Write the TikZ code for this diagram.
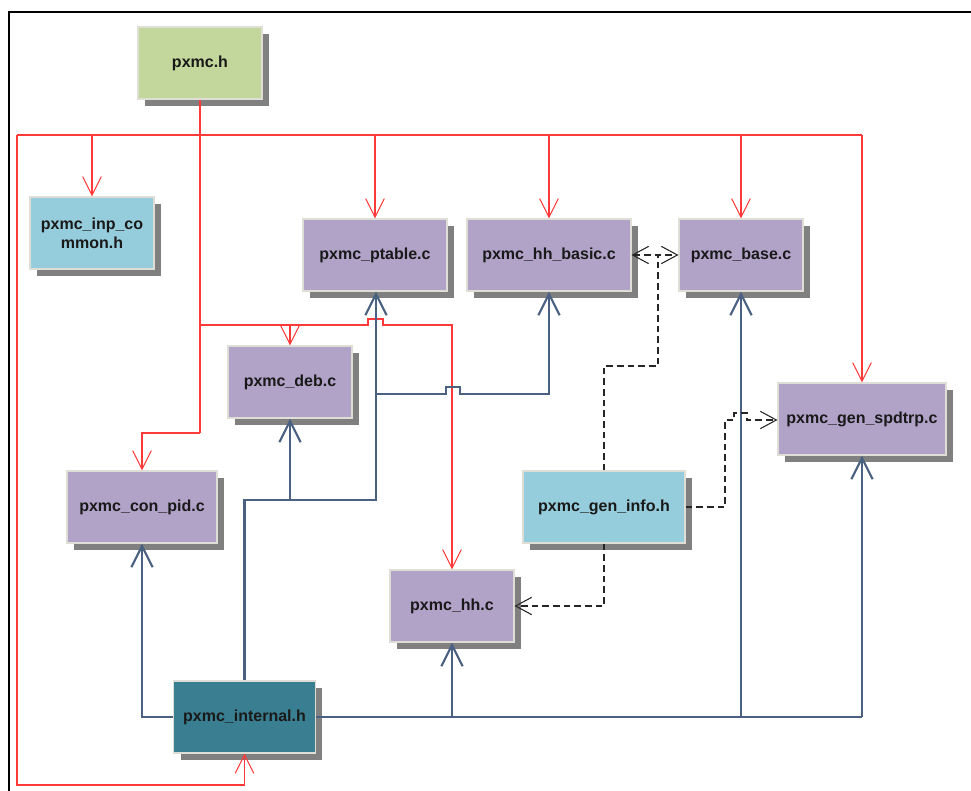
\documentclass[tikz,border=0pt]{standalone}
\usepackage{fontspec}
\setmainfont{Liberation Sans}
\usetikzlibrary{arrows.meta,shadows}
\definecolor{filec}{HTML}{B1A2C8}
\definecolor{fileh}{HTML}{96CDDC}
\definecolor{filetop}{HTML}{C3D69B}
\definecolor{fileint}{HTML}{3A7F91}
\definecolor{boxedge}{HTML}{DEDED6}
\definecolor{incl}{HTML}{FF3838}
\definecolor{uses}{HTML}{4B6182}
\definecolor{shade}{HTML}{808080}
\begin{document}
\begin{tikzpicture}[x=0.75pt,y=-0.75pt,
  file/.style={draw=boxedge, line width=0.8pt, fill=#1, minimum height=54pt,
    inner sep=0pt, align=center, font=\fontsize{12}{14}\selectfont\bfseries,
    text=black!90,
    drop shadow={shadow xshift=5pt, shadow yshift=-5pt, fill=shade, opacity=1}},
  rtip/.tip={Straight Barb[length=14pt,width=14pt,line width=0.8pt]},
  btip/.tip={Straight Barb[length=16pt,width=16pt,line width=1.6pt]},
  dtip/.tip={Straight Barb[length=12pt,width=13pt,line width=0.8pt]},
  include/.style={draw=incl, line width=0.8pt, -rtip},
  incbus/.style={draw=incl, line width=0.8pt},
  depend/.style={draw=uses, line width=1.6pt, -btip},
  depbus/.style={draw=uses, line width=1.6pt},
  refer/.style={draw=black!85, line width=0.8pt, dash pattern=on 5pt off 3pt, -dtip},
  referbus/.style={draw=black!85, line width=0.8pt, dash pattern=on 5pt off 3pt}]
\useasboundingbox (0,0) rectangle (971,791);
\fill[white] (0,0) rectangle (971,791);
% outer frame
\draw[black, line width=2.2pt] (9,791) -- (9,12) -- (971,12);

% files
\node[file=filetop, minimum width=93pt]   (h)       at (200,63)   {pxmc.h};
\node[file=fileh,   minimum width=93pt]   (inp)     at (92,233)   {pxmc\_inp\_co\\mmon.h};
\node[file=filec,   minimum width=108pt]  (ptable)  at (375,255)  {pxmc\_ptable.c};
\node[file=filec,   minimum width=123pt]  (hhbasic) at (549,255)  {pxmc\_hh\_basic.c};
\node[file=filec,   minimum width=93pt]   (base)    at (741,255)  {pxmc\_base.c};
\node[file=filec,   minimum width=93pt]   (deb)     at (290,382)  {pxmc\_deb.c};
\node[file=filec,   minimum width=126pt]  (spd)     at (862,419)  {pxmc\_gen\_spdtrp.c};
\node[file=filec,   minimum width=112.5pt](conpid)  at (142,507)  {pxmc\_con\_pid.c};
\node[file=fileh,   minimum width=121.5pt](geninfo) at (604,507)  {pxmc\_gen\_info.h};
\node[file=filec,   minimum width=93pt]   (hh)      at (452,606)  {pxmc\_hh.c};
\node[file=fileint, minimum width=106pt]  (internal)at (244.5,717){pxmc\_internal.h};

% junction points
\coordinate (busL) at (17,135);
\coordinate (busR) at (862,135);
\coordinate (midL) at (200,325);
\coordinate (upJ)  at (376,500);
\coordinate (busB) at (862,717);

% red: pxmc.h includes
\draw[incbus] (h.south) -- (200,433);
\draw[include] (200,433) -| (conpid.north);
\draw[incbus] (busL) -- (busR);
\draw[include] (92,135) -- (inp.north);
\draw[include] (375,135) -- (ptable.north);
\draw[include] (549,135) -- (hhbasic.north);
\draw[include] (741,135) -- (base.north);
\draw[include] (busR) -- (spd.north);
\draw[include] (busL) -- (17,785) -| (internal.south);
\draw[include] (midL) -| (deb.north);
\draw[include] (midL) -- (368,325) -- (368,319) -- (383,319) -- (383,325) -| (hh.north);

% blue: pxmc_internal.h dependencies
\draw[depend] (internal.north) |- (upJ) -- (upJ|-ptable.south);
\draw[depend] (290,500) -- (deb.south);
\draw[depend] (376,394) -- (446,394) -- (446,387) -- (460,387) -- (460,394) -| (hhbasic.south);
\draw[depend] (internal.west) -| (conpid.south);
\draw[depbus] (internal.east) -- (busB);
\draw[depend] (busB) -- (spd.south);
\draw[depend] (452,717) -- (hh.south);
\draw[depend] (741,717) -- (base.south);

% dashed: pxmc_gen_info.h references
\draw[referbus] (geninfo.north) -- (604,366) -- (658,366) -- (658,255);
\draw[refer, dtip-dtip] (hhbasic.east) -- (base.west);
\draw[refer] (geninfo.east) -- (725,507) -- (725,420) -- (734,420) -- (734,413) -- (747,413) -- (747,420) -- (spd.west|-0,420);
\draw[refer] (geninfo.south) |- (hh.east);
\end{tikzpicture}
\end{document}
